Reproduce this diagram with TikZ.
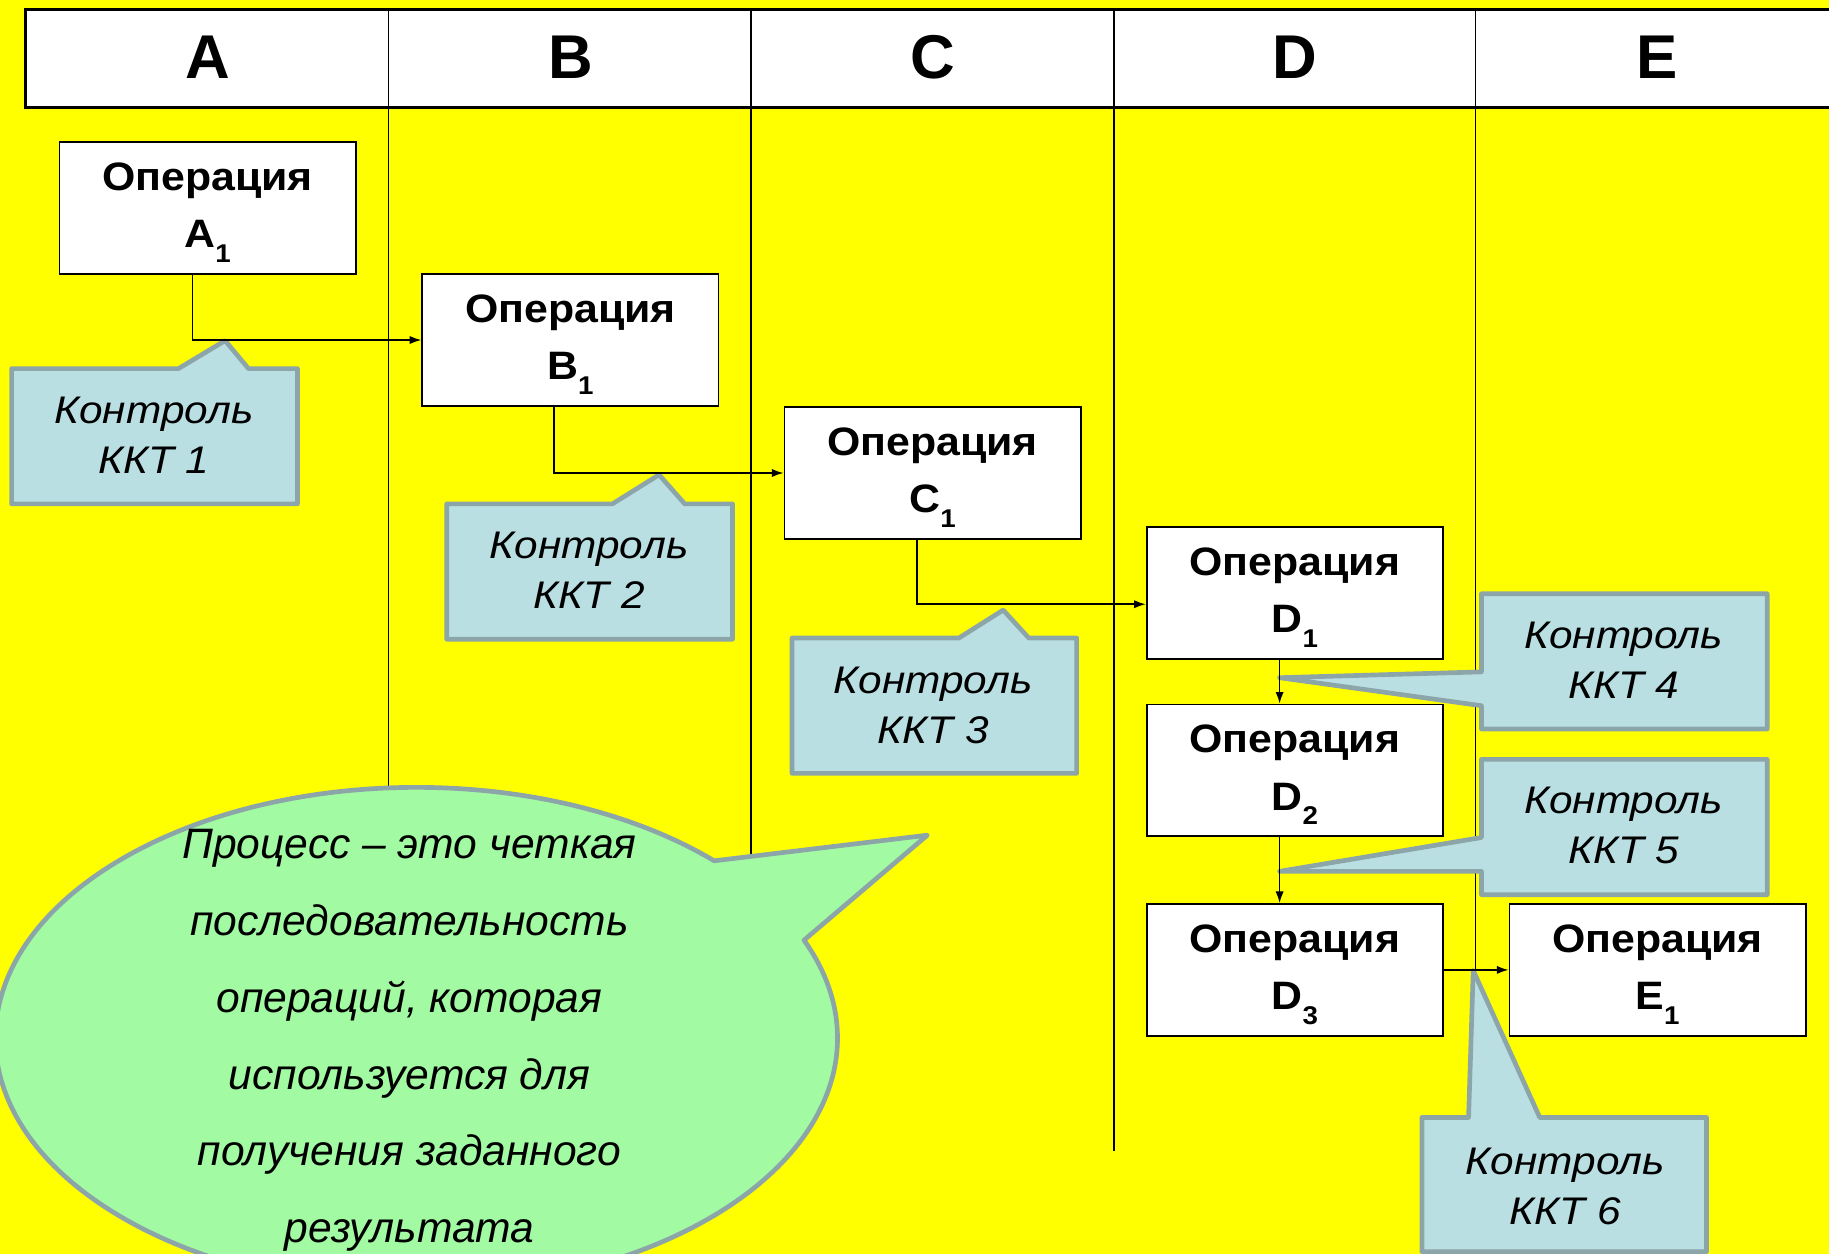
\documentclass[tikz,border=0pt]{standalone}
\usepackage{fontspec}
\setmainfont{Liberation Sans}
\newfontfamily\opfont[FakeStretch=1.08]{Liberation Sans}
\newfontfamily\kfont[FakeStretch=1.1]{Liberation Sans}
\usetikzlibrary{arrows.meta,calc}
\definecolor{bgyellow}{HTML}{FFFF00}
\definecolor{callfill}{HTML}{B9DFE3}
\definecolor{callline}{HTML}{8CA5A8}
\definecolor{bubfill}{HTML}{A2FAA2}
\newcommand\subnum[1]{\raisebox{-0.37em}[0pt][5pt]{\fontsize{22}{22}\selectfont #1}}
\begin{document}
\begin{tikzpicture}[x=1pt,y=-1pt,
 opbox/.style={draw=black, fill=white, line width=1.5pt, minimum width=254pt, minimum height=113pt, inner sep=0pt, align=center, font=\opfont\fontsize{34}{49.2}\selectfont\bfseries},
 hdr/.style={font=\fontsize{53}{53}\selectfont\bfseries, inner sep=0pt},
 ctext/.style={align=center, font=\kfont\fontsize{33}{43}\selectfont\itshape, inner sep=0pt},
 conn/.style={line width=1.3pt, -{Latex[length=10pt,width=7pt]}},
 callout/.style={fill=callfill, draw=callline, line width=4pt, line join=round},
 lane/.style={line width=1.3pt},
]
\fill[bgyellow] (0,0) rectangle (1568,1075);
\clip (0,0) rectangle (1568,1075);
% lanes
\foreach \x in {333,644,955,1265} \draw[lane] (\x,92) -- (\x,987);
% header
\fill[white] (22,8) rectangle (1580,92);
\foreach \x in {333,644,955,1265} \draw[lane] (\x,8) -- (\x,92);
\draw[line width=2.5pt] (1580,8) -- (22,8) -- (22,92) -- (1580,92);
\node[hdr] (hA) at (178,49) {A};
\node[hdr] (hB) at (489,49) {B};
\node[hdr] (hC) at (800,49) {C};
\node[hdr] (hD) at (1110,49) {D};
\node[hdr] (hE) at (1421,49) {E};
% bubble
\draw[callout, fill=bubfill] (795,716) -- ($(357,890)+(-45:361 and 215)$)
  arc[start angle=-45, end angle=-383, x radius=361, y radius=215] -- cycle;
\node[align=center, font=\fontsize{36.5}{65.8}\selectfont\itshape, inner sep=0pt] (bub) at (351,892)
 {Процесс – это четкая\\последовательность\\операций, которая\\используется для\\получения заданного\\результата};
% callouts
\draw[callout] (10,316) -- (153,316) -- (193,292) -- (213,316) -- (255,316) -- (255,432) -- (10,432) -- cycle;
\node[ctext] (k1) at (132,373) {Контроль\\ККТ 1};
\draw[callout] (383,432) -- (525,432) -- (565,407) -- (587,432) -- (628,432) -- (628,548) -- (383,548) -- cycle;
\node[ctext] (k2) at (505,489) {Контроль\\ККТ 2};
\draw[callout] (679,547) -- (822,547) -- (860,523) -- (882,547) -- (923,547) -- (923,663) -- (679,663) -- cycle;
\node[ctext] (k3) at (800,605) {Контроль\\ККТ 3};
\draw[callout] (1270,509) -- (1515,509) -- (1515,625) -- (1270,625) -- (1270,605) -- (1097,581) -- (1270,576) -- cycle;
\node[ctext] (k4) at (1392,566) {Контроль\\ККТ 4};
\draw[callout] (1270,651) -- (1515,651) -- (1515,767) -- (1270,767) -- (1270,747) -- (1097,747) -- (1270,718) -- cycle;
\node[ctext] (k5) at (1392,708) {Контроль\\ККТ 5};
\draw[callout] (1219,958) -- (1259,958) -- (1263,832) -- (1320,958) -- (1463,958) -- (1463,1073) -- (1219,1073) -- cycle;
\node[ctext] (k6) at (1342,1017) {Контроль\\ККТ 6};
% operation boxes
\node[opbox] (A1) at (178,178.5) {Операция\\A\subnum{1}};
\node[opbox] (B1) at (489,291.5) {Операция\\B\subnum{1}};
\node[opbox] (C1) at (799.5,405.5) {Операция\\C\subnum{1}};
\node[opbox] (D1) at (1110,508.5) {Операция\\D\subnum{1}};
\node[opbox] (D2) at (1110,660.5) {Операция\\D\subnum{2}};
\node[opbox] (D3) at (1110,831.5) {Операция\\D\subnum{3}};
\node[opbox] (E1) at (1421,831.5) {Операция\\E\subnum{1}};
% connectors
\draw[conn] ([xshift=-13pt]A1.south) |- (B1.west);
\draw[conn] ([xshift=-14pt]B1.south) |- (C1.west);
\draw[conn] ([xshift=-13.5pt]C1.south) |- ([yshift=-9.5pt]D1.west);
\draw[conn] ([xshift=-13pt]D1.south) -- ([xshift=-13pt]D2.north);
\draw[conn] ([xshift=-13pt]D2.south) -- ([xshift=-13pt]D3.north);
\draw[conn] (D3.east) -- (E1.west);
\end{tikzpicture}
\end{document}
